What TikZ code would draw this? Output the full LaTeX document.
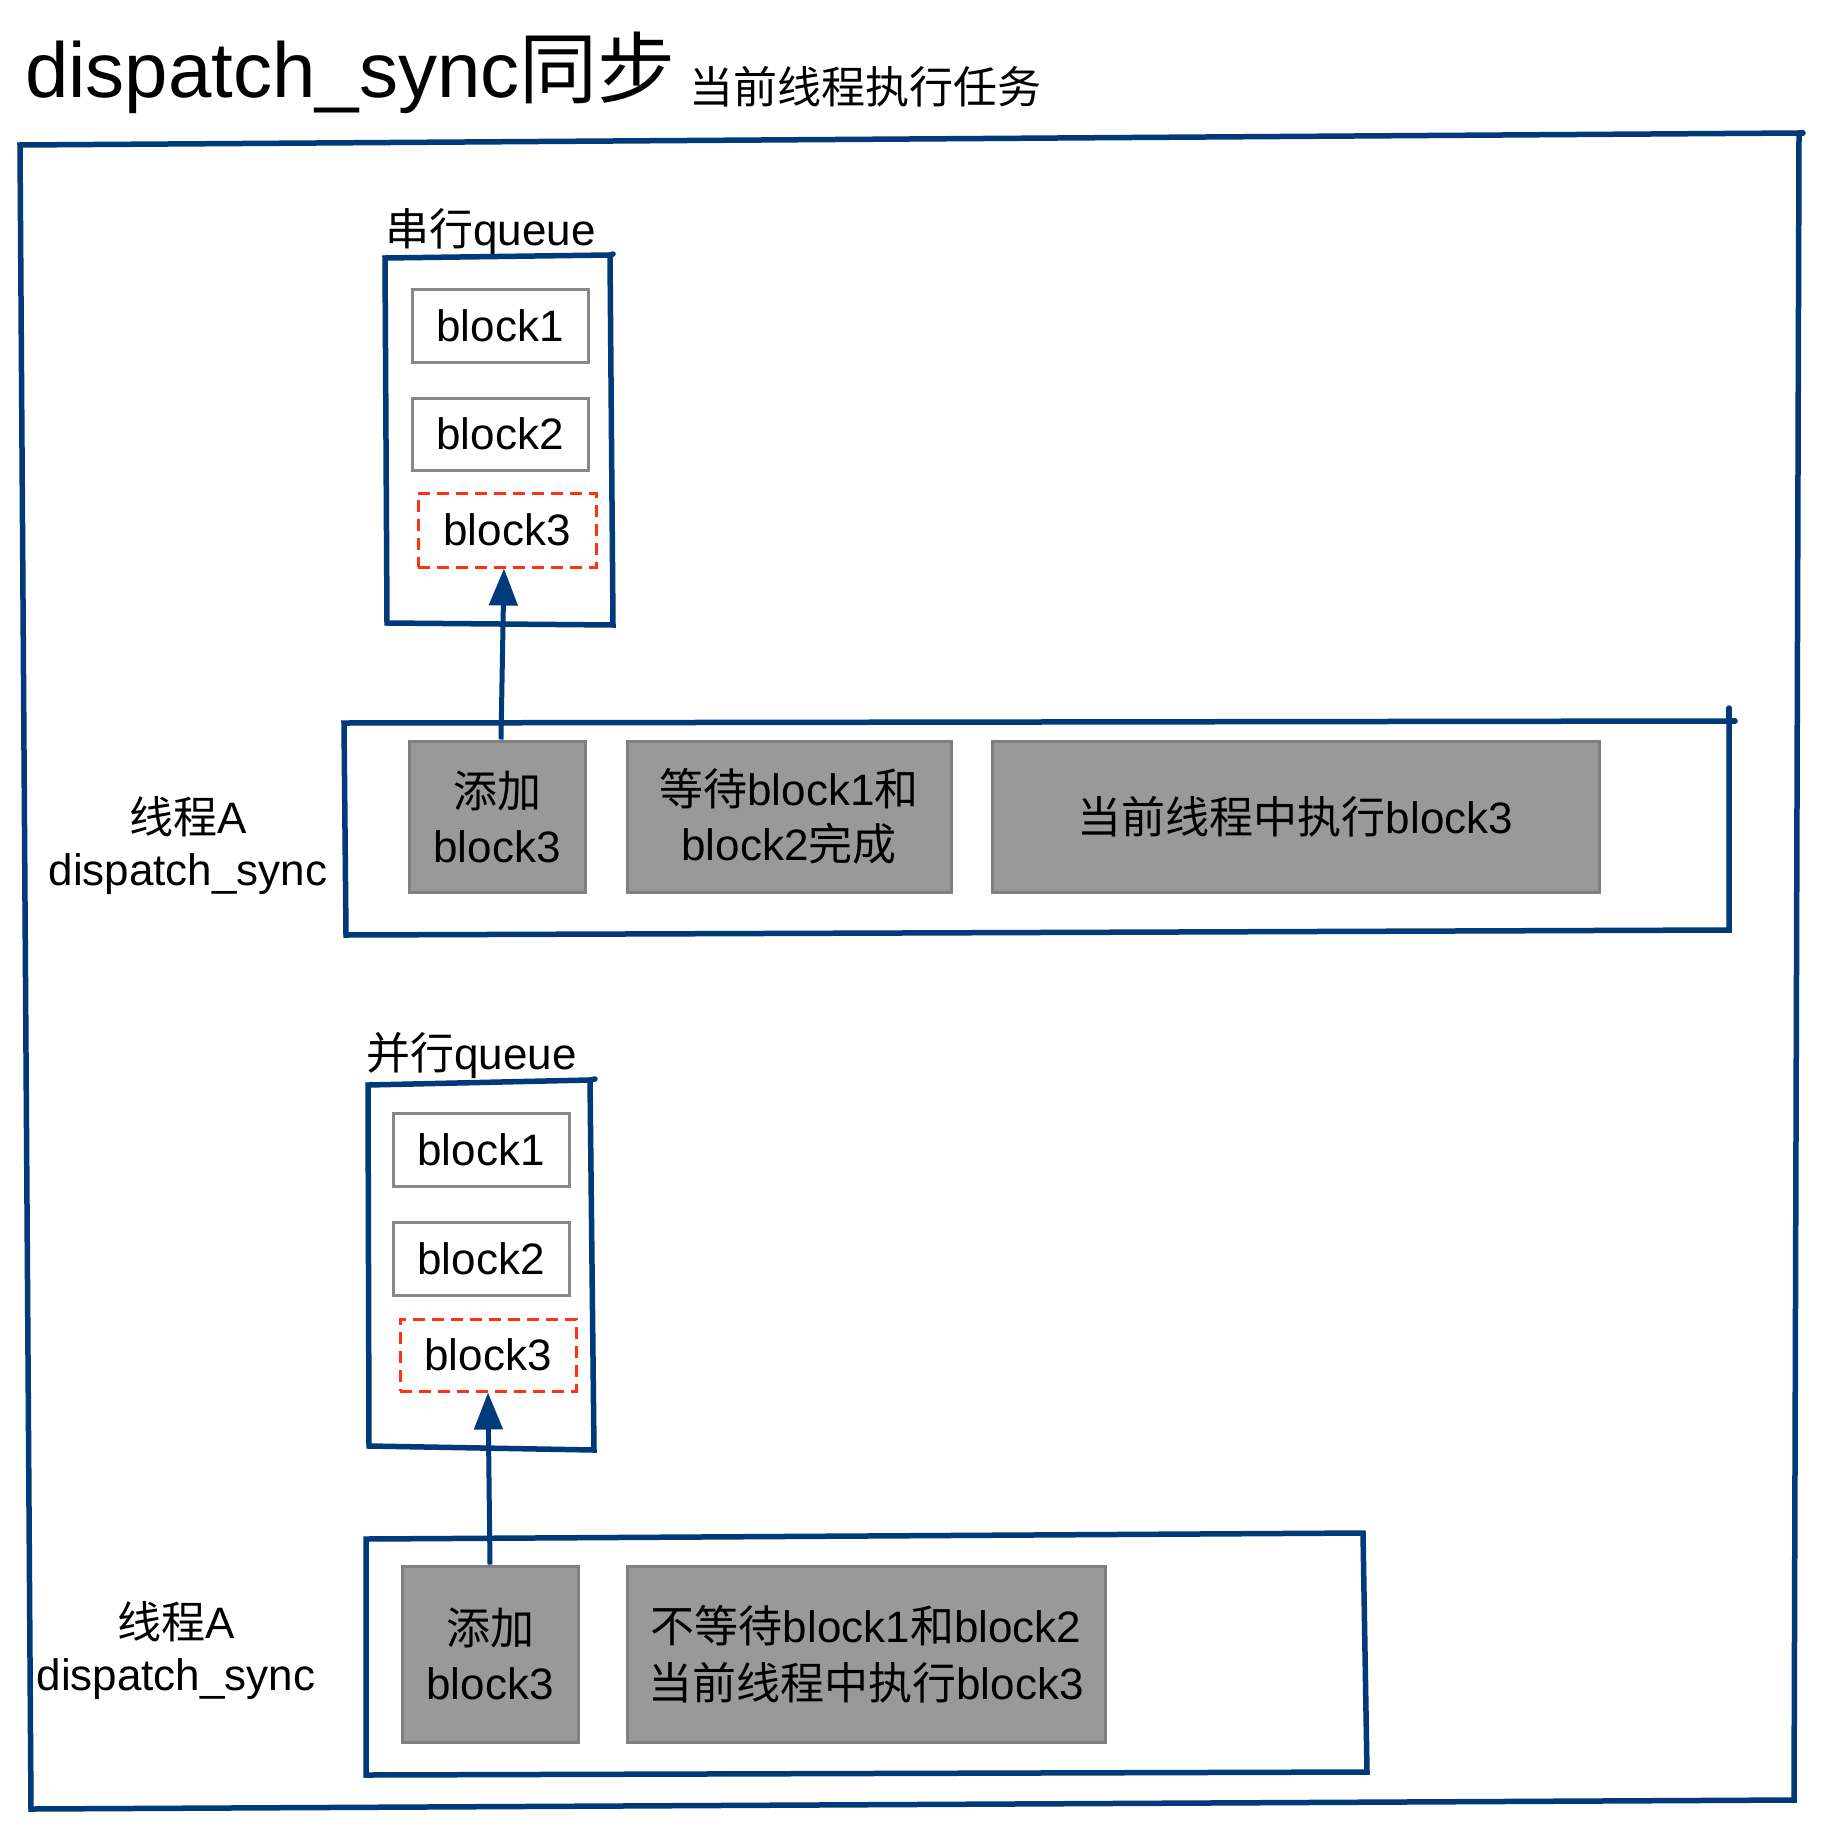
\documentclass[tikz,border=0pt]{standalone}
\usepackage{fontspec}
\setmainfont{Liberation Sans}
\newfontfamily\cjk{Noto Sans CJK SC}
\usetikzlibrary{arrows.meta}
\definecolor{frameblue}{RGB}{0,58,122}
\definecolor{boxgray}{RGB}{153,153,153}
\definecolor{boxedge}{RGB}{128,128,128}
\definecolor{qedge}{RGB}{136,136,136}
\definecolor{dashred}{RGB}{255,50,20}
\tikzset{
  frame/.style={draw=frameblue, line width=5.5pt, line join=miter},
  frametick/.style={draw=frameblue, line width=5.5pt, line cap=round},
  qblock/.style={draw=qedge, fill=white, line width=3pt, inner sep=0pt, font=\fontsize{44}{55}\selectfont},
  qnew/.style={draw=dashred, line width=3pt, dash pattern=on 12pt off 7pt, inner sep=0pt, font=\fontsize{44}{55}\selectfont},
  task/.style={draw=boxedge, fill=boxgray, line width=3pt, inner sep=0pt, align=center, font=\fontsize{44}{55}\selectfont},
  lbl/.style={inner sep=0pt, align=center, font=\fontsize{44}{52}\selectfont},
  qlbl/.style={inner sep=0pt, anchor=base west, font=\fontsize{44}{52}\selectfont},
  arr/.style={draw=frameblue, line width=5pt, -{Triangle[length=37pt,width=28pt]}}
}
\begin{document}
\begin{tikzpicture}[x=1pt,y=-1pt]
\useasboundingbox (0,0) rectangle (1822,1830);
% title
\node[anchor=base west, inner sep=0pt, font=\fontsize{78}{90}\selectfont] (title) at (25,98) {dispatch\_sync{\cjk 同步}};
\node[anchor=base west, inner sep=0pt, font=\fontsize{44}{50}\selectfont\cjk] (subtitle) at (689,104) {当前线程执行任务};
% outer frame
\draw[frame] (20,145) -- (1799,133) -- (1794,1800) -- (31,1809) -- cycle;
\draw[frametick] (1799,133) -- (1803,133);
% serial queue
\node[qlbl] (sqlabel) at (385,245) {{\cjk 串行}queue};
\draw[frame] (385,258) -- (610,255) -- (613,625) -- (387,623) -- cycle;
\draw[frametick] (610,255) -- (613,254);
\node[qblock, minimum width=176pt, minimum height=73pt] (s1) at (500,325.5) {block1};
\node[qblock, minimum width=176pt, minimum height=72pt] (s2) at (500,434) {block2};
\node[qnew, minimum width=178pt, minimum height=74pt] (s3) at (507,530) {block3};
% thread A, serial
\node[lbl] (t1) at (188,846) {{\cjk 线程}A\\dispatch\_sync};
\draw[frame] (344,723) -- (1729,721) -- (1729,930) -- (346,935) -- cycle;
\draw[frametick] (1729,721) -- (1735,721);
\draw[frametick] (1729,708) -- (1729,721);
\node[task, minimum width=176pt, minimum height=151pt] (add1) at (497,816.5) {{\cjk 添加}\\block3};
\node[task, minimum width=324pt, minimum height=151pt] (wait1) at (789,816.5) {{\cjk 等待}block1{\cjk 和}\\block2{\cjk 完成}};
\node[task, minimum width=607pt, minimum height=151pt] (exec1) at (1295.5,816.5) {{\cjk 当前线程中执行}block3};
\draw[arr] ([xshift=4pt]add1.north) -- ([xshift=-3pt]s3.south);
% parallel queue
\node[qlbl] (pqlabel) at (366,1069) {{\cjk 并行}queue};
\draw[frame] (368,1085) -- (590,1080) -- (594,1450) -- (369,1446) -- cycle;
\draw[frametick] (590,1080) -- (595,1079);
\node[qblock, minimum width=176pt, minimum height=73pt] (p1) at (481,1149.5) {block1};
\node[qblock, minimum width=176pt, minimum height=73pt] (p2) at (481,1258.5) {block2};
\node[qnew, minimum width=176pt, minimum height=72pt] (p3) at (488,1355) {block3};
% thread A, parallel
\node[lbl] (t2) at (176,1651) {{\cjk 线程}A\\dispatch\_sync};
\draw[frame] (366,1539) -- (1363,1533) -- (1367,1772) -- (366,1775) -- cycle;
\node[task, minimum width=176pt, minimum height=176pt] (add2) at (490,1654) {{\cjk 添加}\\block3};
\node[task, minimum width=478pt, minimum height=176pt, font=\fontsize{44}{57}\selectfont] (exec2) at (866,1654) {{\cjk 不等待}block1{\cjk 和}block2\\{\cjk 当前线程中执行}block3};
\draw[arr] (add2.north) -- (p3.south);
\end{tikzpicture}
\end{document}
